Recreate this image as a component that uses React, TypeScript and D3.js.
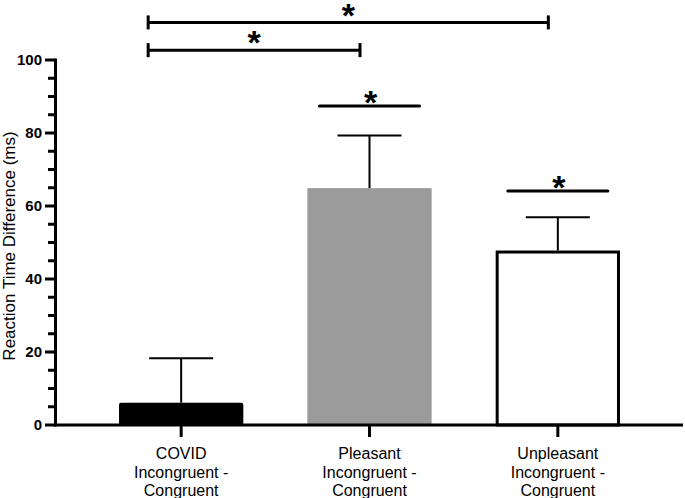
import React from "react";
import * as d3 from "d3";

const categories = [
  ["COVID", "Incongruent -", "Congruent"],
  ["Pleasant", "Incongruent -", "Congruent"],
  ["Unpleasant", "Incongruent -", "Congruent"],
];
const means = [6.1, 64.9, 47.8];
const errorTops = [18.3, 79.3, 56.9];
const yTicks = [0, 20, 40, 60, 80, 100];
const minorTicks = d3.range(0, 101, 5);
// significance brackets between two bars (indices), level in data units
const brackets = [
  { from: 0, to: 2, level: 110.3 },
  { from: 0, to: 1, level: 102.7 },
];
// significance lines above single bars
const singleLines = [
  { bar: 1, level: 87.4 },
  { bar: 2, level: 64.1 },
];

const W = 685;
const H = 498;
const FONT = "'Liberation Sans', Arial, sans-serif";
const STAR = 34;

export default function App() {
  const y = d3.scaleLinear().domain([0, 100]).range([425, 60]);
  const x = d3
    .scaleBand<number>()
    .domain([0, 1, 2])
    .range([87, 652])
    .paddingInner(0.34)
    .paddingOuter(0.17);
  const bw = x.bandwidth();
  const cx = (i: number) => (x(i) as number) + bw / 2;
  const fills = ["#000000", "#9b9b9b", "#ffffff"];
  const strokes = ["#000000", "none", "#000000"];
  const capHalf = 32;

  const bracketLeft = (i: number) => cx(i) - 33;
  const bracketRight = (i: number) => cx(i) - 9.5;
  const starBase = (centerY: number) => centerY + 0.55 * STAR;

  return (
    <svg
      width={W}
      height={H}
      style={{ position: "absolute", left: 0, top: 0, background: "#fff" }}
      fontFamily={FONT}
    >
      {/* bars */}
      {means.map((m, i) => {
        const isOutline = strokes[i] !== "none" && fills[i] === "#ffffff";
        const inset = isOutline ? 1.5 : 0;
        return (
          <rect
            key={"bar" + i}
            x={(x(i) as number) + inset}
            y={y(m) + inset}
            width={bw - 2 * inset}
            height={y(0) - y(m) - inset}
            fill={fills[i]}
            stroke={strokes[i]}
            strokeWidth={isOutline ? 3 : 0}
            rx={i === 0 ? 2 : 0}
          />
        );
      })}
      {/* error bars */}
      {means.map((m, i) => (
        <g key={"err" + i} stroke="#000" strokeWidth={2}>
          <line x1={cx(i)} x2={cx(i)} y1={y(m)} y2={y(errorTops[i])} />
          <line
            x1={cx(i) - capHalf}
            x2={cx(i) + capHalf}
            y1={y(errorTops[i])}
            y2={y(errorTops[i])}
          />
        </g>
      ))}
      {/* y axis */}
      <line x1={55.5} x2={55.5} y1={y(100) - 1.5} y2={y(0) + 1.5} stroke="#000" strokeWidth={3} />
      {minorTicks.map((t) => (
        <line
          key={"mt" + t}
          x1={yTicks.includes(t) ? 45 : 48}
          x2={55.5}
          y1={y(t)}
          y2={y(t)}
          stroke="#000"
          strokeWidth={3}
        />
      ))}
      {yTicks.map((t) => (
        <text
          key={"yl" + t}
          x={42}
          y={y(t)}
          dy="0.36em"
          textAnchor="end"
          fontSize={15}
          fontWeight="bold"
        >
          {t}
        </text>
      ))}
      <text
        transform={`translate(15,246) rotate(-90)`}
        textAnchor="middle"
        fontSize={17}
      >
        Reaction Time Difference (ms)
      </text>
      {/* x axis */}
      <line x1={54} x2={683} y1={y(0)} y2={y(0)} stroke="#000" strokeWidth={3} />
      {categories.map((lines, i) => (
        <g key={"xl" + i}>
          <line x1={cx(i)} x2={cx(i)} y1={y(0)} y2={y(0) + 12} stroke="#000" strokeWidth={3} />
          {lines.map((l, j) => (
            <text
              key={j}
              x={cx(i)}
              y={459 + j * 18.5}
              textAnchor="middle"
              fontSize={16}
            >
              {l}
            </text>
          ))}
        </g>
      ))}
      {/* significance brackets */}
      {brackets.map((b, k) => {
        const x1 = bracketLeft(b.from);
        const x2 = bracketRight(b.to);
        const yy = y(b.level);
        return (
          <g key={"br" + k} stroke="#000" strokeWidth={3}>
            <line x1={x1} x2={x2} y1={yy} y2={yy} />
            <line x1={x1} x2={x1} y1={yy - 7} y2={yy + 7} />
            <line x1={x2} x2={x2} y1={yy - 7} y2={yy + 7} />
            <text
              x={(x1 + x2) / 2}
              y={starBase(yy - 14.5)}
              textAnchor="middle"
              fontSize={STAR}
              fontWeight="bold"
              stroke="none"
            >
              *
            </text>
          </g>
        );
      })}
      {singleLines.map((s, k) => {
        const yy = y(s.level);
        return (
          <g key={"sl" + k}>
            <line
              x1={cx(s.bar) - 50}
              x2={cx(s.bar) + 50}
              y1={yy}
              y2={yy}
              stroke="#000"
              strokeWidth={3}
              strokeLinecap="round"
            />
            <text
              x={cx(s.bar) + 1}
              y={starBase(yy - 11)}
              textAnchor="middle"
              fontSize={STAR}
              fontWeight="bold"
            >
              *
            </text>
          </g>
        );
      })}
    </svg>
  );
}
